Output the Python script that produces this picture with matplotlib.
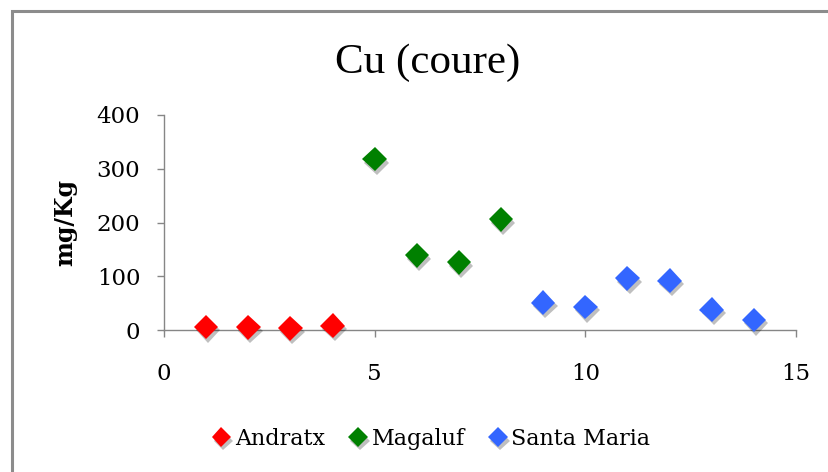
import matplotlib
matplotlib.use("Agg")
import matplotlib.pyplot as plt
import matplotlib.patheffects as pe
from matplotlib.patches import Rectangle

# Cu (coure) per punt de mostreig
andratx_x = [1, 2, 3, 4]
andratx_y = [6, 5, 3, 8]
magaluf_x = [5, 6, 7, 8]
magaluf_y = [318, 139, 126, 206]
santa_maria_x = [9, 10, 11, 12, 13, 14]
santa_maria_y = [51, 43, 96, 92, 38, 19]

series = [
    ("Andratx", andratx_x, andratx_y, "#ff0000"),
    ("Magaluf", magaluf_x, magaluf_y, "#008000"),
    ("Santa Maria", santa_maria_x, santa_maria_y, "#3366ff"),
]

serif = ["DejaVu Serif"]

fig = plt.figure(figsize=(8.29, 4.72), dpi=100)
ax = fig.add_axes([0.1978, 0.3008, 0.7624, 0.4556])

shadow = [pe.SimplePatchShadow(offset=(1.5, -2.5), shadow_rgbFace="black", alpha=0.25), pe.Normal()]

for name, xs, ys, color in series:
    ax.plot(xs, ys, linestyle="none", marker="D", markersize=12.5,
            color=color, markeredgewidth=0, label=name,
            path_effects=shadow, clip_on=False, zorder=3)

ax.set_xlim(0, 15)
ax.set_ylim(0, 400)
ax.set_xticks([0, 5, 10, 15])
ax.set_yticks([0, 100, 200, 300, 400])

for side in ("top", "right"):
    ax.spines[side].set_visible(False)
for side in ("left", "bottom"):
    ax.spines[side].set_color("#868686")
    ax.spines[side].set_linewidth(1.0)

ax.tick_params(axis="both", direction="out", length=5, width=1.0, color="#868686",
               labelsize=16.5)
ax.tick_params(axis="y", pad=12)
ax.tick_params(axis="x", pad=19)
for lbl in ax.get_xticklabels() + ax.get_yticklabels():
    lbl.set_family(serif)

ax.set_ylabel("mg/Kg", fontsize=17, fontweight="bold", family=serif)
ax.yaxis.set_label_coords(-0.138, 0.5)

fig.text(0.516, 0.868, "Cu (coure)", ha="center", va="center", fontsize=31,
         family=["Liberation Serif", "DejaVu Serif"])

leg = fig.legend(loc="center", bbox_to_anchor=(0.519, 0.07), ncol=3, frameon=False,
                 prop={"family": serif, "size": 16}, handletextpad=0.1,
                 columnspacing=1.0, markerscale=0.8, handlelength=1.0)

# Marc del gràfic
fig.patches.append(Rectangle((12 / 829, -0.1), 1.2, 1 - 11 / 472 + 0.1,
                             transform=fig.transFigure, fill=False,
                             edgecolor="#8c8c8c", linewidth=2.2))

fig.savefig("out.png", dpi=100)
